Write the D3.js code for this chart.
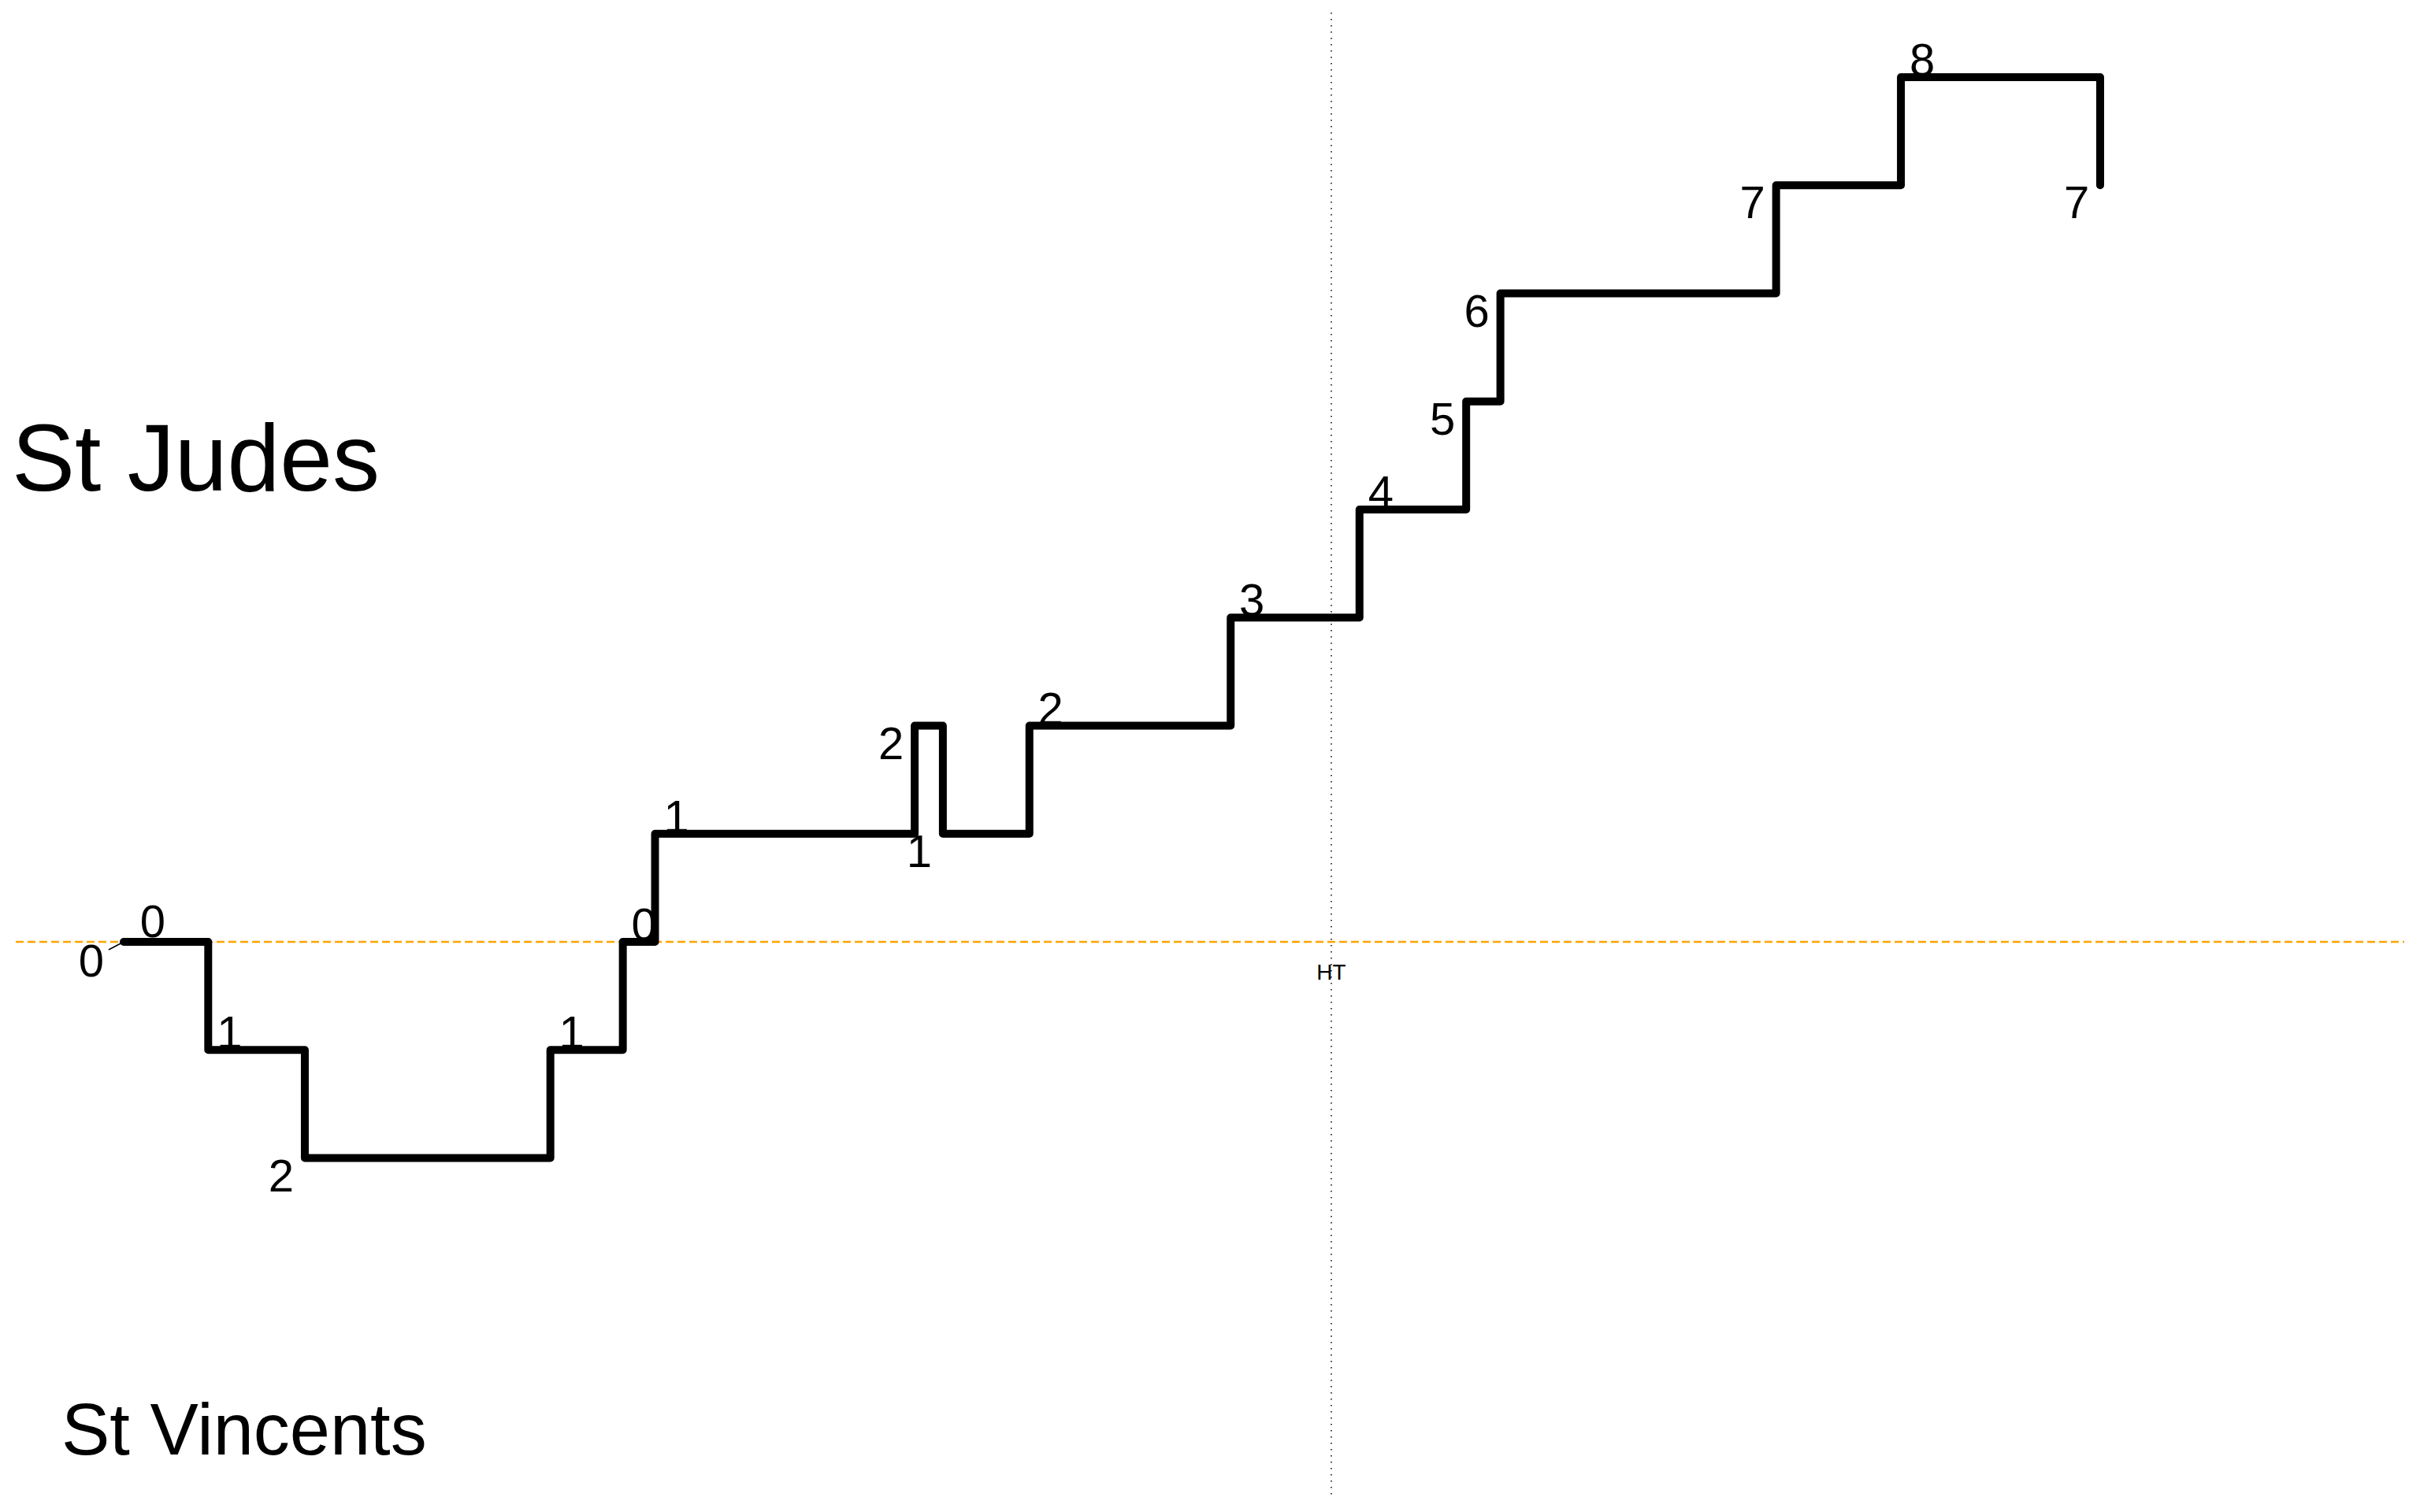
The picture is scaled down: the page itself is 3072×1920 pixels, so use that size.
<!DOCTYPE html>
<html>
<head>
<meta charset="utf-8">
<script src="https://cdn.jsdelivr.net/npm/d3@7"></script>
<style>
  html, body { margin: 0; padding: 0; background: #fff; }
  svg { display: block; font-family: "Liberation Sans", Arial, Helvetica, sans-serif; }
</style>
</head>
<body>
<script>
// ---- data ----
const teams = ["St Judes", "St Vincents"];
const minutes = [0, 0, 2.1, 4.5, 10.6, 12.4, 13.2, 19.65, 20.35, 22.5, 27.5, 30.7, 33.35, 34.2, 41.05, 44.15, 49.1];
const scoreDiff = [0, 0, -1, -2, -1, 0, 1, 2, 1, 2, 3, 4, 5, 6, 7, 8, 7];
const scoreLabels = ["0", "0", "1", "2", "1", "0", "1", "2", "1", "2", "3", "4", "5", "6", "7", "8", "7"];
const halfTimeMinute = 30;
const halfTimeLabel = "HT";

// ---- layout ----
const W = 3072, H = 1920;
// label placement hints around each step corner
const labelPlacement = ["swl", "nef", "ne", "sw", "ne", "ne", "ne", "sw", "sw", "ne", "ne", "ne", "sw", "sw", "sw", "ne", "sw"];
const placeOffset = {
  ne: [27, -2],
  nef: [37, -6],
  sw: [-30, 42],
  swl: [-41, 44]
};

const svg = d3.select("body").append("svg")
  .attr("width", W).attr("height", H)
  .attr("viewBox", `0 0 ${W} ${H}`);

svg.append("rect").attr("width", W).attr("height", H).attr("fill", "#fff");

const x = d3.scaleLinear().domain([0, halfTimeMinute]).range([157, 1690]);
const y = d3.scaleLinear().domain([0, 8]).range([1196, 98]);

const points = minutes.map((m, i) => ({ m, d: scoreDiff[i], label: scoreLabels[i], place: labelPlacement[i] }));

// zero (level) line
svg.append("line")
  .attr("x1", 20).attr("x2", 3052)
  .attr("y1", y(0)).attr("y2", y(0))
  .attr("stroke", "#FFA500")
  .attr("stroke-width", 2.5)
  .attr("stroke-dasharray", "10,5");

// half-time line
svg.append("line")
  .attr("x1", x(halfTimeMinute)).attr("x2", x(halfTimeMinute))
  .attr("y1", 16).attr("y2", 1900)
  .attr("stroke", "#000")
  .attr("stroke-width", 1.5)
  .attr("stroke-dasharray", "1.5,6.5");

svg.append("text")
  .attr("x", x(halfTimeMinute))
  .attr("y", 1244)
  .attr("text-anchor", "middle")
  .attr("font-size", 28)
  .attr("fill", "#000")
  .text(halfTimeLabel);

// step line
const line = d3.line()
  .x(d => x(d.m))
  .y(d => y(d.d))
  .curve(d3.curveStepAfter);

svg.append("path")
  .datum(points)
  .attr("d", line)
  .attr("fill", "none")
  .attr("stroke", "#000")
  .attr("stroke-width", 10)
  .attr("stroke-linejoin", "round")
  .attr("stroke-linecap", "round");

// labels
const lab = svg.append("g");
points.forEach(p => {
  const off = placeOffset[p.place];
  const cx = x(p.m) + off[0];
  const by = y(p.d) + off[1];
  if (p.place === "swl") {
    lab.append("line")
      .attr("x1", x(p.m)).attr("y1", y(p.d))
      .attr("x2", x(p.m) - 19).attr("y2", y(p.d) + 10)
      .attr("stroke", "#000").attr("stroke-width", 1.5);
  }
  lab.append("text")
    .attr("x", cx)
    .attr("y", by)
    .attr("text-anchor", "middle")
    .attr("font-size", 58)
    .attr("fill", "#000")
    .text(p.label);
});

// team names
svg.append("text")
  .attr("x", 15).attr("y", 623)
  .attr("font-size", 120)
  .attr("fill", "#000")
  .text(teams[0]);

svg.append("text")
  .attr("x", 78).attr("y", 1847)
  .attr("font-size", 92)
  .attr("fill", "#000")
  .text(teams[1]);
</script>
</body>
</html>
